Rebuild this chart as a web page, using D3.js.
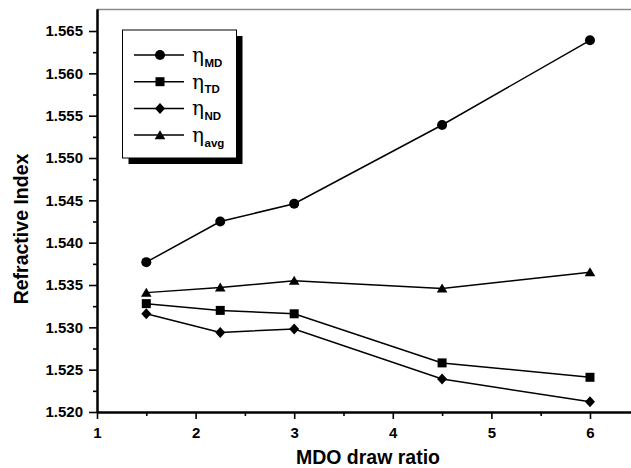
<!DOCTYPE html>
<html>
<head>
<meta charset="utf-8">
<script src="https://cdn.jsdelivr.net/npm/d3@7/dist/d3.min.js"></script>
<style>
  html, body { margin: 0; padding: 0; background: #fff; }
  svg { display: block; }
</style>
</head>
<body>
<svg id="chart" width="631" height="468"></svg>
<script>
// ---- data ----
const drawRatio = [1.5, 2.25, 3, 4.5, 6];
const etaMD  = [1.5377, 1.5425, 1.5446, 1.5539, 1.5639];
const etaTD  = [1.5328, 1.5320, 1.5316, 1.5258, 1.5241];
const etaND  = [1.5316, 1.5294, 1.5298, 1.5239, 1.5212];
const etaAvg = [1.5341, 1.5347, 1.5355, 1.5346, 1.5365];
const seriesNames = ["MD", "TD", "ND", "avg"];
const seriesSymbols = ["circle", "square", "diamond", "triangle"];
const xTicks = [1, 2, 3, 4, 5, 6];
const xMinorTicks = [1.5, 2.5, 3.5, 4.5, 5.5];
const yTicks = [1.520, 1.525, 1.530, 1.535, 1.540, 1.545, 1.550, 1.555, 1.560, 1.565];
const yMinorTicks = [1.5225, 1.5275, 1.5325, 1.5375, 1.5425, 1.5475, 1.5525, 1.5575, 1.5625];

const seriesValues = [etaMD, etaTD, etaND, etaAvg];

(function () {
const mLeft = 97, mRight = 631, mTop = 9, mBottom = 412;
const svg = d3.select("#chart");

const x = d3.scaleLinear().domain([1, 6.416]).range([mLeft, mRight]);
const y = d3.scaleLinear().domain([1.52, 1.5676]).range([mBottom, mTop]);

// top frame line
svg.append("line").attr("x1", mLeft).attr("x2", mRight).attr("y1", 9.5).attr("y2", 9.5)
  .attr("stroke", "#8a8a8a").attr("stroke-width", 1.5);

const font = "'Liberation Sans', Arial, sans-serif";

// axes
const xAxis = svg.append("g").attr("transform", `translate(0,${mBottom})`)
  .call(d3.axisBottom(x).tickValues(xTicks).tickFormat(d3.format("d")).tickSize(7).tickSizeOuter(0).tickPadding(8));
const xMinor = svg.append("g").attr("transform", `translate(0,${mBottom})`)
  .call(d3.axisBottom(x).tickValues(xMinorTicks).tickFormat("").tickSize(4).tickSizeOuter(0));
const yAxis = svg.append("g").attr("transform", `translate(${mLeft},0)`)
  .call(d3.axisLeft(y).tickValues(yTicks).tickFormat(d3.format(".3f")).tickSize(8).tickSizeOuter(0).tickPadding(6));
const yMinor = svg.append("g").attr("transform", `translate(${mLeft},0)`)
  .call(d3.axisLeft(y).tickValues(yMinorTicks).tickFormat("").tickSize(4).tickSizeOuter(0));

[xAxis, xMinor, yAxis, yMinor].forEach(g => {
  g.select(".domain").attr("stroke", "#000").attr("stroke-width", 2);
  g.selectAll(".tick line").attr("stroke", "#000").attr("stroke-width", 1.6);
  g.selectAll(".tick text").attr("fill", "#000")
    .style("font-family", font).style("font-weight", "bold").style("font-size", "15px");
});
xAxis.selectAll(".tick text").attr("dy", "0.71em");
yAxis.selectAll(".tick text").attr("x", -14);

// axis titles
svg.append("text").attr("x", 368).attr("y", 464).attr("text-anchor", "middle")
  .style("font-family", font).style("font-weight", "bold").style("font-size", "19.5px")
  .text("MDO draw ratio");
svg.append("text").attr("transform", "translate(28,229) rotate(-90)").attr("text-anchor", "middle")
  .style("font-family", font).style("font-weight", "bold").style("font-size", "19.5px")
  .text("Refractive Index");

// marker path generator
function markerPath(type, cx, cy) {
  switch (type) {
    case "circle": {
      const r = 5;
      return `M${cx - r},${cy}a${r},${r} 0 1,0 ${2 * r},0a${r},${r} 0 1,0 ${-2 * r},0Z`;
    }
    case "square": {
      const s = 4.5;
      return `M${cx - s},${cy - s}h${2 * s}v${2 * s}h${-2 * s}Z`;
    }
    case "diamond": {
      const w = 5, h = 5.5;
      return `M${cx},${cy - h}L${cx + w},${cy}L${cx},${cy + h}L${cx - w},${cy}Z`;
    }
    case "triangle": {
      const w = 5.3, h = 9;
      return `M${cx},${cy - h * 0.55}L${cx + w},${cy + h * 0.45}L${cx - w},${cy + h * 0.45}Z`;
    }
  }
}

const line = d3.line().x(d => x(d[0])).y(d => y(d[1]));

seriesValues.forEach((vals, i) => {
  const pts = drawRatio.map((d, j) => [d, vals[j]]);
  svg.append("path").datum(pts).attr("d", line)
    .attr("fill", "none").attr("stroke", "#000").attr("stroke-width", 1.5);
  svg.append("g").selectAll("path").data(pts).join("path")
    .attr("d", d => markerPath(seriesSymbols[i], x(d[0]), y(d[1])))
    .attr("fill", "#000");
});

// legend
const lg = svg.append("g");
const lx = 122.5, ly = 30, lw = 114, lh = 128;
lg.append("rect").attr("x", lx + 6).attr("y", ly + 6).attr("width", lw).attr("height", lh).attr("fill", "#000");
lg.append("rect").attr("x", lx).attr("y", ly).attr("width", lw).attr("height", lh)
  .attr("fill", "#fff").attr("stroke", "#000").attr("stroke-width", 1);

seriesNames.forEach((name, i) => {
  const cy = 55 + i * 26.7;
  lg.append("line").attr("x1", 134).attr("x2", 184).attr("y1", cy).attr("y2", cy)
    .attr("stroke", "#000").attr("stroke-width", 1.5);
  lg.append("path").attr("d", markerPath(seriesSymbols[i], 160, cy)).attr("fill", "#000");
  const t = lg.append("text").attr("x", 192).attr("y", cy + 7)
    .style("font-family", "'DejaVu Serif', 'Liberation Serif', serif").style("font-size", "20px");
  t.append("tspan").text("η");
  t.append("tspan").attr("dy", 4.5).attr("dx", 0.5)
    .style("font-family", font).style("font-weight", "bold").style("font-size", "11.5px").text(name);
});
})();
</script>
</body>
</html>
